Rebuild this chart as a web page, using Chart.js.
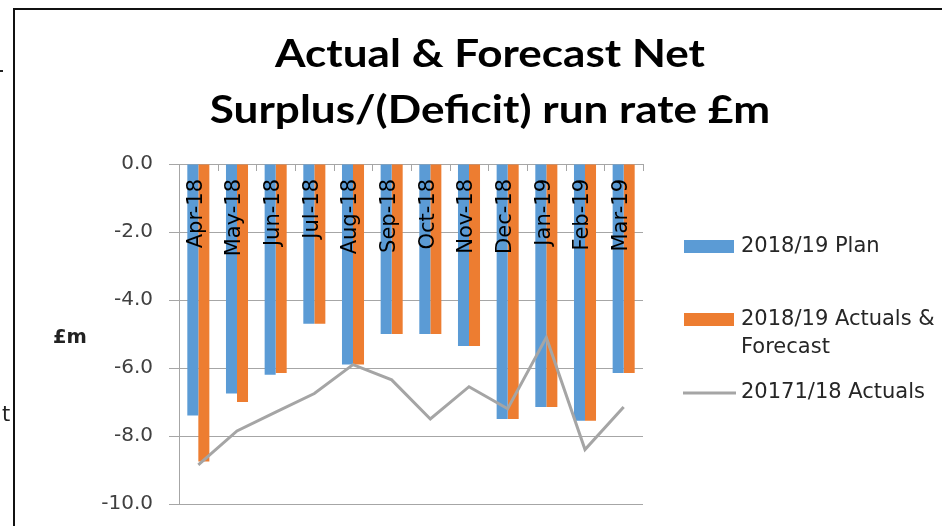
<!DOCTYPE html>
<html>
<head>
<meta charset="utf-8">
<script src="https://cdn.jsdelivr.net/npm/chart.js@4"></script>
<style>
	body { margin: 0; background: #fff; }
	#wrap { position: relative; width: 942px; height: 526px; overflow: hidden; }
	#chartCanvas { position: absolute; left: 0; top: 0; }
	#frame { position: absolute; left: 13px; top: 8px; width: 960px; height: 540px;
		border-left: 2px solid #111; border-top: 2px solid #111; }
	.stray { position: absolute; font-family: "DejaVu Sans"; font-size: 21px; color: #222; }
</style>
</head>
<body>
<div id="wrap">
	<canvas id="chartCanvas" width="942" height="526"></canvas>
	<div id="frame"></div>
	<span class="stray" style="left:2px; top:402px;">t</span>
	<div style="position:absolute; left:0; top:70px; width:3px; height:2px; background:#222"></div>
</div>
<script>
// months of the 2018/19 financial year
const months = ['Apr-18', 'May-18', 'Jun-18', 'Jul-18', 'Aug-18', 'Sep-18',
	'Oct-18', 'Nov-18', 'Dec-18', 'Jan-19', 'Feb-19', 'Mar-19']
// £m per month
const plan = [-7.4, -6.75, -6.2, -4.7, -5.9, -5.0, -5.0, -5.35, -7.5, -7.15, -7.55, -6.15]
const actualForecast = [-8.75, -7.0, -6.15, -4.7, -5.9, -5.0, -5.0, -5.35, -7.5, -7.15, -7.55, -6.15]
const priorActuals = [-8.85, -7.85, -7.3, -6.75, -5.9, -6.35, -7.5, -6.55, -7.2, -5.1, -8.4, -7.15]

const seriesNames = ['2018/19 Plan', '2018/19 Actuals & Forecast', '20171/18 Actuals']
const titleLines = ['Actual & Forecast Net', 'Surplus/(Deficit) run rate £m']
const yTicks = { min: -10, max: 0, step: 2 }

const BLUE = '#5B9BD5'
const ORANGE = '#ED7D31'
const GREY = '#A5A5A5'
const AXIS = '#A6A6A6'
const SMALL_FONT = '"DejaVu Sans"'

// title, legend, unit label and the month labels that sit inside the plot
const decorations = {
	id: 'decorations',
	afterDatasetsDraw(chart) {
		const ctx = chart.ctx
		const area = chart.chartArea
		const x = chart.scales.x
		ctx.save()
		// short tick marks hanging down from the top axis
		ctx.strokeStyle = AXIS
		ctx.lineWidth = 1
		ctx.beginPath()
		for (let i = 0; i <= months.length; i++) {
			let px = Math.round(x.getPixelForValue(i - 0.5)) + 0.5
			ctx.moveTo(px, area.top)
			ctx.lineTo(px, area.top + 7)
		}
		ctx.stroke()

		ctx.fillStyle = '#000'
		ctx.font = '21px ' + SMALL_FONT
		ctx.textAlign = 'right'
		ctx.textBaseline = 'middle'
		months.forEach((m, i) => {
			ctx.save()
			ctx.translate(x.getPixelForValue(i) - 2, area.top + 15)
			ctx.rotate(-Math.PI / 2)
			ctx.fillText(m, 0, 0)
			ctx.restore()
		})
		ctx.restore()
	},
	afterDraw(chart) {
		const ctx = chart.ctx
		ctx.save()
		ctx.fillStyle = '#000'
		ctx.font = 'bold 39px Lato'
		ctx.textAlign = 'center'
		ctx.textBaseline = 'alphabetic'
		// title is a little wider than Lato draws it
		ctx.save()
		ctx.translate(490, 0)
		ctx.scale(1.13, 1)
		ctx.fillText(titleLines[0], 0, 67)
		ctx.fillText(titleLines[1], 0, 123)
		ctx.restore()

		ctx.textAlign = 'left'
		ctx.font = 'bold 19.5px ' + SMALL_FONT
		ctx.fillStyle = '#222'
		ctx.fillText('£m', 53, 343)

		// legend
		ctx.font = '21px ' + SMALL_FONT
		ctx.textBaseline = 'middle'
		ctx.fillStyle = BLUE
		ctx.fillRect(684, 240, 50, 13)
		ctx.fillStyle = ORANGE
		ctx.fillRect(684, 313, 50, 13)
		ctx.strokeStyle = GREY
		ctx.lineWidth = 3
		ctx.beginPath()
		ctx.moveTo(683, 393)
		ctx.lineTo(736, 393)
		ctx.stroke()
		ctx.fillStyle = '#262626'
		ctx.fillText(seriesNames[0], 741, 247)
		ctx.fillText('2018/19 Actuals &', 741, 320)
		ctx.fillText('Forecast', 741, 348)
		ctx.fillText(seriesNames[2], 741, 393)
		ctx.restore()
	}
}

function barSet(label, color, data) {
	return {
		type: 'bar',
		label: label,
		data: data,
		backgroundColor: color,
		borderWidth: 0,
		categoryPercentage: 0.57,
		barPercentage: 1.0,
		order: 1
	}
}

window.onload = function() {
	const ctx = document.getElementById('chartCanvas')
	window.myChart = new Chart(ctx, {
		type: 'bar',
		data: {
			labels: months,
			datasets: [
				barSet(seriesNames[0], BLUE, plan),
				barSet(seriesNames[1], ORANGE, actualForecast),
				{
					type: 'line',
					label: seriesNames[2],
					data: priorActuals,
					borderColor: GREY,
					backgroundColor: GREY,
					borderWidth: 3,
					pointRadius: 0,
					tension: 0,
					fill: false,
					order: 0
				}
			]
		},
		options: {
			responsive: false,
			animation: false,
			devicePixelRatio: 1,
			layout: { padding: { left: 99, top: 164, right: 299, bottom: 22 } },
			plugins: {
				legend: { display: false },
				title: { display: false },
				tooltip: { enabled: false }
			},
			scales: {
				x: { display: false },
				y: {
					min: yTicks.min,
					max: yTicks.max,
					// fixed axis width; the label padding should not eat into the plot height
					afterFit: s => {
						s.width = 80
						s.paddingTop = 0
						s.paddingBottom = 0
					},
					border: { color: AXIS, width: 1 },
					grid: { color: AXIS, tickLength: 10 },
					ticks: {
						stepSize: yTicks.step,
						padding: 16,
						color: '#404040',
						font: { family: SMALL_FONT, size: 20 },
						callback: v => v.toFixed(1)
					}
				}
			}
		},
		plugins: [decorations]
	})
}
</script>
</body>
</html>
